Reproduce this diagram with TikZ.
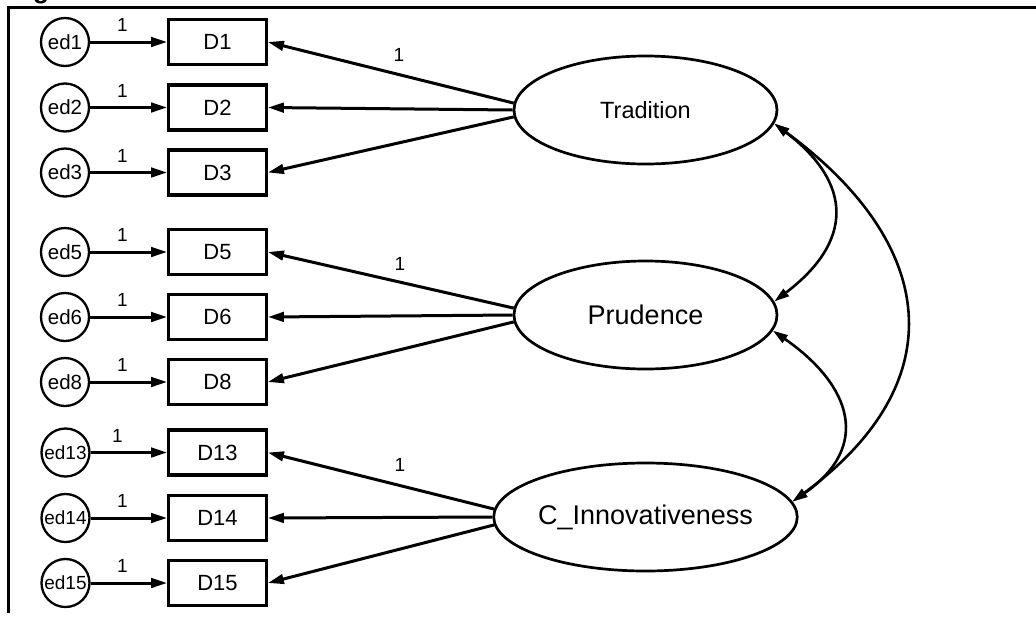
\documentclass[tikz,border=0pt]{standalone}
\usepackage{fontspec}
\setmainfont{Liberation Sans}
\usetikzlibrary{arrows.meta,shapes.geometric,calc}

\tikzset{
  errc/.style={circle, draw, line width=2.3pt, minimum size=48pt, inner sep=0pt},
  obs/.style={rectangle, draw, line width=3.3pt, minimum width=97.5pt, minimum height=45pt,
              inner sep=0pt, font=\fontsize{22}{26}\selectfont},
  lat/.style={ellipse, draw, line width=2.7pt, minimum width=263pt, minimum height=108pt,
              inner sep=0pt},
  reg/.style={line width=3pt, -{Triangle[length=16pt,width=9.5pt]}},
  cov/.style={line width=2.6pt, {Triangle[length=15pt,width=9pt]}-{Triangle[length=15pt,width=9pt]}},
  wlab/.style={font=\fontsize{19}{21}\selectfont, inner sep=0pt},
}

\begin{document}
\begin{tikzpicture}[x=1pt, y=-1pt]
\useasboundingbox (0,0) rectangle (1036,619);

% frame and the foot of the caption letter above it
\node[anchor=base, font=\fontsize{26}{28}\selectfont\bfseries, inner sep=0pt] (cap) at (41,-2) {g};
\draw[line width=3pt] (7,7) -- (1036,7);
\draw[line width=3.5pt] (8.5,5.5) -- (8.5,613);

% observed indicators
\foreach \n/\y in {1/42, 2/107.5, 3/172.5, 5/252, 6/317, 8/382, 13/452.5, 14/518, 15/583}{
  \node[obs] (D\n) at (217.5,\y) {D\n};
}

% error terms
\foreach \n/\y in {1/42, 2/107.5, 3/172.5, 5/252, 6/317, 8/382}{
  \node[errc, font=\fontsize{20.5}{23}\selectfont] (e\n) at (65,\y) {ed\n};
}
\foreach \n/\y in {13/452.5, 14/518, 15/583}{
  \node[errc, font=\fontsize{19}{21}\selectfont] (e\n) at (65.5,\y) {ed\n};
}

% error paths with fixed weights
\foreach \n in {1,2,3,5,6,8,13,14,15}{
  \draw[reg] (e\n) -- (D\n);
}
\foreach \n/\y in {1/42, 2/107.5, 3/172.5, 5/252, 6/317, 8/382, 14/518, 15/583}{
  \node[wlab] (w\n) at (122.5,\y-17) {1};
}
\node[wlab] (w13) at (117.5,435.5) {1};

% latent factors
\node[lat, font=\fontsize{23.5}{27}\selectfont] (T) at (645.5,110) {Tradition};
\node[lat, font=\fontsize{27}{31}\selectfont] (P) at (645.5,315) {Prudence};
\node[lat, font=\fontsize{27}{31}\selectfont] (C) at (645.5,517) {C\_Innovativeness};

% loadings
\draw[reg] (T.177) -- (D1.east);
\draw[reg] (T.west) -- (D2.east);
\draw[reg] (T.183) -- (D3.east);
\draw[reg] (P.177) -- (D5.east);
\draw[reg] (P.west) -- (D6.east);
\draw[reg] (P.183) -- (D8.east);
\draw[reg] (C.177) -- (D13.east);
\draw[reg] (C.west) -- (D14.east);
\draw[reg] (C.183) -- (D15.east);

\node[wlab] (lT) at (399,55) {1};
\node[wlab] (lP) at (400,264) {1};
\node[wlab] (lC) at (400,465) {1};

% covariances
\draw[cov] (T.-6) .. controls +(79,60) and +(79,-60) .. (P.6);
\draw[cov] (P.-7) .. controls +(79,55) and +(79,-55) .. (C.6);
\draw[cov] (T.-6) .. controls +(163,120) and +(163,-120) .. (C.6);
\end{tikzpicture}
\end{document}
